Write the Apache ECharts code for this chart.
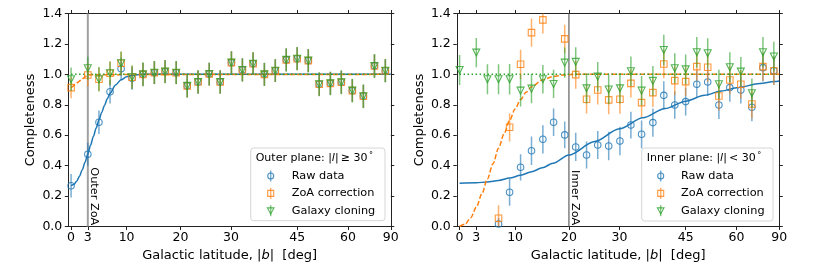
<!DOCTYPE html>
<html><head><meta charset="utf-8">
<script src="https://cdn.jsdelivr.net/npm/echarts@6/dist/echarts.min.js"></script>
<style>html,body{margin:0;padding:0;background:#fff}#c{width:830px;height:277px}</style>
</head><body><div id="c"></div>
<script>
// ---------- DATA ----------
const tickDeg = [0, 3, 10, 20, 30, 45, 60, 90];
const latitude = [0, 3, 5.0, 7.0, 9.0, 11.0, 13.0, 15.1, 17.1, 19.2, 21.3, 23.4, 25.6, 27.8, 30.1, 32.4, 34.7, 37.2, 39.7, 42.3, 45.0, 47.9, 50.9, 54.2, 57.7, 61.6, 66.1, 71.6, 79.4];

// Outer plane |l| >= 30
const outerRaw   = [0.268, 0.475, 0.685, 0.886, 1.037, 0.974, 1.000, 1.011, 1.018, 1.011, 0.924, 0.950, 1.002, 0.950, 1.077, 1.029, 1.070, 1.000, 1.024, 1.095, 1.103, 1.090, 0.935, 0.941, 0.948, 0.893, 0.856, 1.055, 1.024];
const outerRawErr= [0.077, 0.075, 0.077, 0.077, 0.075, 0.075, 0.075, 0.075, 0.075, 0.075, 0.075, 0.075, 0.075, 0.075, 0.075, 0.075, 0.075, 0.075, 0.075, 0.075, 0.075, 0.075, 0.075, 0.075, 0.075, 0.075, 0.075, 0.075, 0.075];
const outerZoA   = [0.913, 0.996, 0.968, 1.007, 1.073, 0.981, 1.000, 1.011, 1.018, 1.011, 0.924, 0.950, 1.002, 0.950, 1.077, 1.029, 1.070, 1.000, 1.024, 1.095, 1.103, 1.090, 0.935, 0.941, 0.948, 0.893, 0.856, 1.055, 1.024];
const outerZoAErr= [0.070, 0.075, 0.077, 0.077, 0.075, 0.075, 0.075, 0.075, 0.075, 0.075, 0.075, 0.075, 0.075, 0.075, 0.075, 0.075, 0.075, 0.075, 0.075, 0.075, 0.075, 0.075, 0.075, 0.075, 0.075, 0.075, 0.075, 0.075, 0.075];
const outerClone = [0.968, 1.040, 0.968, 1.007, 1.073, 0.981, 1.000, 1.011, 1.018, 1.011, 0.924, 0.950, 1.002, 0.950, 1.077, 1.029, 1.070, 1.000, 1.024, 1.095, 1.103, 1.090, 0.935, 0.941, 0.948, 0.893, 0.856, 1.055, 1.024];
const outerCloneErr=[0.077, 0.075, 0.080, 0.078, 0.077, 0.077, 0.080, 0.076, 0.076, 0.076, 0.078, 0.078, 0.075, 0.078, 0.074, 0.077, 0.074, 0.077, 0.075, 0.077, 0.077, 0.077, 0.079, 0.078, 0.079, 0.078, 0.078, 0.079, 0.077];

// Inner plane |l| < 30
const innerRaw   = [null, null, null, 0.016, 0.225, 0.389, 0.498, 0.573, 0.685, 0.602, 0.523, 0.470, 0.536, 0.529, 0.562, 0.667, 0.606, 0.683, 0.862, 0.799, 0.821, 0.935, 0.950, 0.799, 0.913, 0.897, 0.784, 1.044, 1.024];
const innerRawErr= [0, 0, 0, 0.040, 0.088, 0.086, 0.093, 0.093, 0.090, 0.088, 0.093, 0.088, 0.092, 0.093, 0.093, 0.088, 0.091, 0.093, 0.093, 0.090, 0.091, 0.090, 0.091, 0.092, 0.093, 0.088, 0.093, 0.091, 0.093];
const innerZoA   = [null, null, null, 0.054, 0.652, 1.066, 1.274, 1.358, null, 1.233, 0.998, 0.836, 0.897, 0.832, 0.836, 0.941, 0.814, 0.880, 1.068, 0.959, 0.952, 1.051, 1.047, 0.858, 0.963, 0.935, 0.805, 1.051, 1.024];
const innerZoAErr= [0, 0, 0, 0.085, 0.093, 0.096, 0.093, 0.090, 0, 0.093, 0.093, 0.093, 0.095, 0.095, 0.095, 0.093, 0.095, 0.095, 0.093, 0.095, 0.095, 0.093, 0.095, 0.095, 0.093, 0.093, 0.095, 0.093, 0.093];
const innerClone = [1.029, 1.143, 0.968, 0.968, 0.968, 0.893, 0.906, 0.968, 0.937, 1.077, 1.082, 0.908, 0.985, 0.900, 0.908, 1.020, 0.893, 0.957, 1.160, 1.040, 1.033, 1.145, 1.139, 0.935, 1.047, 1.018, 0.876, 1.145, 1.117];
const innerCloneErr= [0.099, 0.096, 0.099, 0.099, 0.100, 0.104, 0.096, 0.093, 0.093, 0.099, 0.096, 0.099, 0.097, 0.096, 0.099, 0.098, 0.096, 0.098, 0.100, 0.098, 0.098, 0.100, 0.098, 0.096, 0.098, 0.096, 0.096, 0.100, 0.098];

// model curves (latitude deg, completeness)
const outerRawCurveLat = [0, 0.5, 1, 1.5, 2, 2.5, 3, 3.5, 4, 4.5, 5, 5.5, 6, 6.5, 7, 8, 9, 10, 11, 12, 13, 15, 20, 90];
const outerRawCurveVal = [0.268, 0.276, 0.297, 0.330, 0.372, 0.422, 0.477, 0.535, 0.592, 0.647, 0.700, 0.750, 0.796, 0.839, 0.876, 0.930, 0.964, 0.984, 0.994, 0.998, 1.0, 1.0, 1.0, 1.0];
const outerZoACurveLat = [0, 3, 90];
const outerZoACurveVal = [0.913, 0.998, 1.0];
const outerCloneCurveLat = [0, 90];
const outerCloneCurveVal = [1.0, 1.0];

const innerRawCurveLat = [0, 3, 5, 7, 9, 11, 13, 15, 17, 20, 25, 30, 35, 40, 45, 50, 55, 60, 70, 80, 90];
const innerRawCurveVal = [0.284, 0.287, 0.293, 0.303, 0.318, 0.337, 0.360, 0.386, 0.416, 0.470, 0.558, 0.642, 0.714, 0.775, 0.824, 0.862, 0.891, 0.912, 0.940, 0.953, 0.957];
const innerZoACurveLat = [0, 1, 2, 3, 4, 5, 6, 7, 8, 9, 10, 11, 12, 13, 15, 17, 19, 21, 90];
const innerZoACurveVal = [0.0, 0.015, 0.058, 0.127, 0.215, 0.313, 0.413, 0.515, 0.610, 0.697, 0.773, 0.834, 0.882, 0.918, 0.963, 0.986, 0.996, 1.0, 1.0];
const innerCloneCurveLat = [0, 90];
const innerCloneCurveVal = [1.0, 1.0];

const zoaLimit = [3, 20];
const zoaText = ['Outer ZoA', 'Inner ZoA'];
const legendTitles = ['Outer plane: ', 'Inner plane: '];
const legendRel = ['≥ 30', '< 30'];
const seriesNames = ['Raw data', 'ZoA correction', 'Galaxy cloning'];

// ---------- CHART ----------
const BLUE = '#1f77b4', ORANGE = '#ff7f0e', GREEN = '#2ca02c';
const FONT = 'DejaVu Sans';
const S = d => Math.sin(d * Math.PI / 180);
const tickS = tickDeg.map(S);
const labelFor = v => { let bi = 0; tickS.forEach((t, i) => { if (Math.abs(t - v) < Math.abs(tickS[bi] - v)) bi = i; }); return String(tickDeg[bi]); };

const gridLeft = [68.3, 456.8];
const grids = gridLeft.map(l => ({ left: l, top: 13.5, width: 322.5, height: 213 }));

const axisLineStyle = { show: true, onZero: false, lineStyle: { color: '#222', width: 1 } };
const tickStyle = { show: true, inside: false, length: 3.5, lineStyle: { color: '#222', width: 1 } };
const xAxes = [], yAxes = [];
[0, 1].forEach(g => {
  xAxes.push({ type: 'value', gridIndex: g, position: 'bottom', min: -0.0087, max: 1,
    axisLine: axisLineStyle, splitLine: { show: false },
    axisTick: Object.assign({ customValues: tickS }, tickStyle),
    axisLabel: { customValues: tickS, formatter: labelFor, color: '#000', fontFamily: FONT, fontSize: 12.5, margin: 5 },
    name: '{n|Galactic latitude, |}{i|b}{n||  [deg]}', nameLocation: 'middle', nameGap: 23,
    nameTextStyle: { rich: { n: { fontFamily: FONT, fontSize: 13, color: '#000' }, i: { fontFamily: FONT, fontSize: 13, fontStyle: 'italic', color: '#000' } } }
  });
  xAxes.push({ type: 'value', gridIndex: g, position: 'top', min: -0.0087, max: 1,
    axisLine: axisLineStyle, splitLine: { show: false },
    axisTick: Object.assign({ customValues: tickS }, tickStyle),
    axisLabel: { show: false }
  });
  yAxes.push({ type: 'value', gridIndex: g, position: 'left', min: 0, max: 1.4, interval: 0.2,
    axisLine: axisLineStyle, splitLine: { show: false }, axisTick: tickStyle,
    axisLabel: { formatter: v => v.toFixed(1), color: '#000', fontFamily: FONT, fontSize: 12.5, margin: 6 },
    name: 'Completeness', nameLocation: 'middle', nameGap: 31,
    nameTextStyle: { fontFamily: FONT, fontSize: 13, color: '#000' }
  });
  yAxes.push({ type: 'value', gridIndex: g, position: 'right', min: 0, max: 1.4, interval: 0.2,
    axisLine: axisLineStyle, splitLine: { show: false }, axisTick: tickStyle,
    axisLabel: { show: false }
  });
});

function errSeries(g, val, err, color, z) {
  const data = [];
  latitude.forEach((b, i) => { if (val[i] != null) data.push([S(b), val[i] - err[i], val[i] + err[i]]); });
  return { type: 'custom', xAxisIndex: 2 * g, yAxisIndex: 2 * g, clip: true, silent: true, z: z,
    data: data,
    renderItem: (p, api) => {
      const a = api.coord([api.value(0), api.value(1)]);
      const c = api.coord([api.value(0), api.value(2)]);
      return { type: 'line', shape: { x1: a[0], y1: a[1], x2: c[0], y2: c[1] },
        style: { stroke: color, lineWidth: 1.5, opacity: 0.6 } };
    } };
}
function markSeries(g, name, val, color, symbol, size, rot, z) {
  const data = [];
  latitude.forEach((b, i) => { if (val[i] != null) data.push([S(b), val[i]]); });
  return { type: 'scatter', name: name, xAxisIndex: 2 * g, yAxisIndex: 2 * g, symbol: symbol, symbolSize: size,
    symbolRotate: rot, silent: true, z: z, data: data,
    itemStyle: { color: 'rgba(255,255,255,0)', borderColor: color, borderWidth: 1.1, opacity: 0.8 } };
}
function curveSeries(g, lat, val, color, type, smooth, z) {
  return { type: 'line', xAxisIndex: 2 * g, yAxisIndex: 2 * g, showSymbol: false, symbol: 'none', silent: true,
    smooth: smooth, smoothMonotone: 'x', z: z,
    data: lat.map((b, i) => [S(b), val[i]]),
    lineStyle: { color: color, width: 1.5, type: type } };
}
function vlineSeries(g, deg, color, width) {
  return { type: 'line', xAxisIndex: 2 * g, yAxisIndex: 2 * g, showSymbol: false, symbol: 'none', silent: true, z: 1,
    data: [[S(deg), 0], [S(deg), 1.4]], lineStyle: { color: color, width: width } };
}

const series = [
  vlineSeries(0, zoaLimit[0], '#a0a0a0', 2),
  vlineSeries(1, zoaLimit[1], '#606060', 1.2),
  curveSeries(0, outerRawCurveLat, outerRawCurveVal, BLUE, 'solid', 0.3, 2),
  curveSeries(0, outerZoACurveLat, outerZoACurveVal, ORANGE, [5, 2.2], false, 3),
  curveSeries(0, outerCloneCurveLat, outerCloneCurveVal, GREEN, [1.5, 2.5], false, 4),
  curveSeries(1, innerRawCurveLat, innerRawCurveVal, BLUE, 'solid', 0.3, 2),
  curveSeries(1, innerZoACurveLat, innerZoACurveVal, ORANGE, [5, 2.2], 0.3, 3),
  curveSeries(1, innerCloneCurveLat, innerCloneCurveVal, GREEN, [1.5, 2.5], false, 4),
  errSeries(0, outerRaw, outerRawErr, BLUE, 5), markSeries(0, seriesNames[0], outerRaw, BLUE, 'circle', 6.5, 0, 6),
  errSeries(0, outerZoA, outerZoAErr, ORANGE, 7), markSeries(0, seriesNames[1], outerZoA, ORANGE, 'rect', 6.5, 0, 8),
  errSeries(0, outerClone, outerCloneErr, GREEN, 9), markSeries(0, seriesNames[2], outerClone, GREEN, 'triangle', 7, 180, 10),
  errSeries(1, innerRaw, innerRawErr, BLUE, 5), markSeries(1, seriesNames[0], innerRaw, BLUE, 'circle', 6.5, 0, 6),
  errSeries(1, innerZoA, innerZoAErr, ORANGE, 7), markSeries(1, seriesNames[1], innerZoA, ORANGE, 'rect', 6.5, 0, 8),
  errSeries(1, innerClone, innerCloneErr, GREEN, 9), markSeries(1, seriesNames[2], innerClone, GREEN, 'triangle', 7, 180, 10)
];

const chart = echarts.init(document.getElementById('c'), null, { renderer: 'canvas' });
chart.setOption({ animation: false, backgroundColor: '#fff', grid: grids, xAxis: xAxes, yAxis: yAxes, series: series });

// ---------- legends & annotations ----------
const legendBox = [{ x: 250.7, y: 148, w: 134.3, h: 72.7, mx: 270.7, tx: 291.7 }, { x: 641.7, y: 148, w: 131.3, h: 73, mx: 660.7, tx: 681 }];
const colors = [BLUE, ORANGE, GREEN];
const graphics = [];
legendBox.forEach((L, g) => {
  const ch = [];
  ch.push({ type: 'rect', shape: { x: L.x, y: L.y, width: L.w, height: L.h, r: 3 },
    style: { fill: 'rgba(255,255,255,0.8)', stroke: '#d6d6d6', lineWidth: 1 } });
  ch.push({ type: 'text', x: L.x + 5, y: L.y + 10.3,
    style: { text: '{n|' + legendTitles[g] + '|}{i|l}{n||\u2009' + legendRel[g] + '}{s|\u2009°}', verticalAlign: 'middle',
      rich: { n: { fontFamily: FONT, fontSize: 11, fill: '#000' }, i: { fontFamily: FONT, fontSize: 11, fontStyle: 'italic', fill: '#000' }, s: { fontFamily: FONT, fontSize: 8, fill: '#000', verticalAlign: 'top', padding: [0, 0, 4, 0] } } } });
  [0, 1, 2].forEach(k => {
    const cy = L.y + 28 + k * 17.35;
    ch.push({ type: 'line', shape: { x1: L.mx, y1: cy - 5.5, x2: L.mx, y2: cy + 5.5 }, style: { stroke: colors[k], lineWidth: 1.5, opacity: 0.6 } });
    if (k === 0) ch.push({ type: 'circle', shape: { cx: L.mx, cy: cy, r: 3 }, style: { fill: 'none', stroke: colors[k], lineWidth: 1.1, opacity: 0.8 } });
    if (k === 1) ch.push({ type: 'rect', shape: { x: L.mx - 3, y: cy - 3, width: 6, height: 6 }, style: { fill: 'none', stroke: colors[k], lineWidth: 1.1, opacity: 0.8 } });
    if (k === 2) ch.push({ type: 'polygon', shape: { points: [[L.mx - 3.3, cy - 2.8], [L.mx + 3.3, cy - 2.8], [L.mx, cy + 3.2]] }, style: { fill: 'none', stroke: colors[k], lineWidth: 1.1, opacity: 0.8 } });
    ch.push({ type: 'text', x: L.tx, y: cy, style: { text: seriesNames[k], fontFamily: FONT, fontSize: 11.3, fill: '#000', verticalAlign: 'middle' } });
  });
  graphics.push({ type: 'group', children: ch, z: 100 });
});
[0, 1].forEach(g => {
  const p = chart.convertToPixel({ gridIndex: g }, [S(zoaLimit[g]), 0]);
  graphics.push({ type: 'text', x: p[0] + 11.5, y: p[1] - 1.2, rotation: -Math.PI / 2, z: 50,
    style: { text: zoaText[g], fontFamily: FONT, fontSize: 11.3, fill: '#000', align: 'right', verticalAlign: 'top' } });
});
chart.setOption({ graphic: graphics });
</script></body></html>
